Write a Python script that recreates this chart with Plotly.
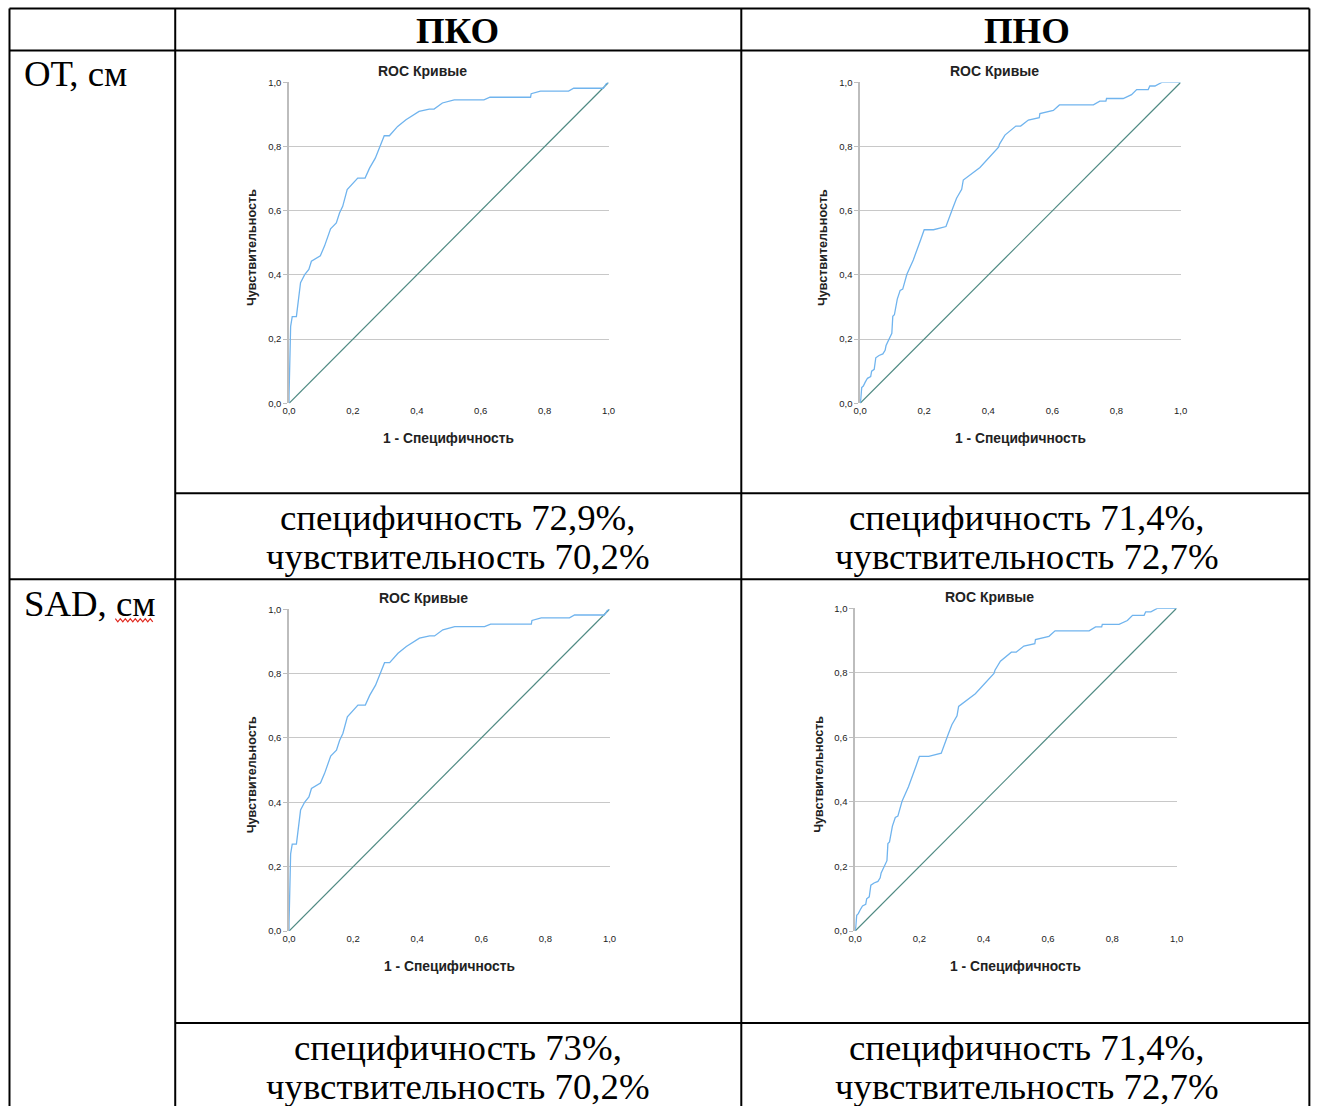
import plotly.graph_objects as go

W, H = 1318, 1106
# measured correction between figure pixels and the photographed picture
SX, BX = 0.991, 5.5
SY, BY = 0.9905, 4.5

# ---------------- data ----------------
col_headers = ["ПКО", "ПНО"]
row_headers = ["ОТ, см", "SAD, см"]
tick_vals = [0.0, 0.2, 0.4, 0.6, 0.8, 1.0]
tick_text = ["0,0", "0,2", "0,4", "0,6", "0,8", "1,0"]

ot_pko_fpr = [0, 0.0, 0.005, 0.01, 0.023, 0.03, 0.036, 0.049, 0.062, 0.07, 0.098, 0.111, 0.13, 0.148,
              0.158, 0.168, 0.182, 0.215, 0.238, 0.252, 0.27, 0.298, 0.314, 0.34, 0.366, 0.407, 0.439,
              0.454, 0.48, 0.517, 0.61, 0.629, 0.756, 0.758, 0.787, 0.875, 0.891, 0.984, 0.993, 1.0]
ot_pko_tpr = [0, 0.023, 0.24, 0.27, 0.27, 0.334, 0.376, 0.401, 0.417, 0.443, 0.46, 0.49, 0.544, 0.562,
              0.593, 0.614, 0.666, 0.702, 0.702, 0.733, 0.764, 0.834, 0.834, 0.863, 0.884, 0.910, 0.917,
              0.917, 0.936, 0.946, 0.946, 0.954, 0.954, 0.965, 0.973, 0.973, 0.982, 0.982, 0.996, 1.0]

ot_pno_fpr = [0, 0.002, 0.005, 0.01, 0.016, 0.023, 0.033, 0.036, 0.044, 0.049, 0.059, 0.071, 0.078,
              0.081, 0.099, 0.102, 0.107, 0.116, 0.125, 0.133, 0.146, 0.166, 0.189, 0.2, 0.229, 0.268,
              0.289, 0.301, 0.317, 0.322, 0.374, 0.416, 0.432, 0.435, 0.452, 0.486, 0.501, 0.525, 0.559,
              0.561, 0.603, 0.622, 0.728, 0.748, 0.767, 0.769, 0.821, 0.847, 0.863, 0.899, 0.904, 0.92,
              0.941, 1.0]
ot_pno_tpr = [0, 0.012, 0.049, 0.054, 0.066, 0.078, 0.083, 0.1, 0.106, 0.142, 0.149, 0.154, 0.165,
              0.18, 0.218, 0.271, 0.276, 0.325, 0.352, 0.356, 0.402, 0.447, 0.51, 0.541, 0.541, 0.551,
              0.608, 0.639, 0.667, 0.696, 0.735, 0.780, 0.798, 0.808, 0.836, 0.864, 0.864, 0.883, 0.89,
              0.903, 0.913, 0.93, 0.93, 0.942, 0.942, 0.95, 0.95, 0.962, 0.978, 0.978, 0.989, 0.989,
              1.0, 1.0]

sad_pko_fpr = list(ot_pko_fpr)
sad_pko_tpr = list(ot_pko_tpr)
sad_pno_fpr = list(ot_pno_fpr)
sad_pno_tpr = list(ot_pno_tpr)

result_line1 = [["специфичность 72,9%,", "специфичность 71,4%,"],
                ["специфичность 73%,", "специфичность 71,4%,"]]
result_line2 = [["чувствительность 70,2%", "чувствительность 72,7%"],
                ["чувствительность 70,2%", "чувствительность 72,7%"]]

chart_title = "ROC Кривые"
x_title = "1 - Специфичность"
y_title = "Чувствительность"

# ---------------- layout helpers (target picture pixels -> paper fractions) ----------------
def fx(px):
    return ((px - BX) / SX) / W

def fy(py):
    return 1 - ((py - BY) / SY) / H

SERIF = "Liberation Serif, Times New Roman, serif"
SANS = "Liberation Sans, Arial, sans-serif"
BIG = 36.8

panels = [  # (x0, x1, ytop, ybottom) in target pixels
    (288, 608, 81, 402),
    (860, 1181, 81, 402),
    (288, 609, 608, 930),
    (855, 1177, 607, 930),
]
curves = [(ot_pko_fpr, ot_pko_tpr), (ot_pno_fpr, ot_pno_tpr),
          (sad_pko_fpr, sad_pko_tpr), (sad_pno_fpr, sad_pno_tpr)]

fig = go.Figure()
annotations = []
shapes = []

for i, ((x0, x1, yt, yb), (fpr, tpr)) in enumerate(zip(panels, curves)):
    n = "" if i == 0 else str(i + 1)
    xa, ya = "x" + n, "y" + n
    fig.add_trace(go.Scatter(x=[0, 1], y=[0, 1], mode="lines",
                             line=dict(color="#4f8a83", width=1.2),
                             xaxis=xa, yaxis=ya, showlegend=False, hoverinfo="skip"))
    fig.add_trace(go.Scatter(x=fpr, y=tpr, mode="lines",
                             line=dict(color="#70b4ee", width=1.3),
                             xaxis=xa, yaxis=ya, showlegend=False))
    fig.layout["xaxis" + n] = dict(
        domain=[fx(x0), fx(x1)], range=[0, 1], anchor=ya,
        tickvals=tick_vals, ticktext=tick_text, showgrid=False, zeroline=False,
        showline=False, ticks="", ticklen=0,
        tickfont=dict(family=SANS, size=9.5, color="#222"), fixedrange=True)
    fig.layout["yaxis" + n] = dict(
        domain=[fy(yb), fy(yt)], range=[0, 1], anchor=xa,
        tickvals=tick_vals, ticktext=tick_text, showgrid=True, gridcolor="#c8c8c8",
        gridwidth=1.2, zeroline=False, showline=True, linecolor="#bdbdbd", linewidth=1.5,
        ticks="outside", ticklen=4, tickcolor="#bdbdbd",
        tickfont=dict(family=SANS, size=9.5, color="#222"), fixedrange=True)
    cx = (x0 + x1) / 2
    cy = (yt + yb) / 2
    annotations.append(dict(x=fx(cx - 26), y=fy(yt - 11), xref="paper", yref="paper",
                            text="<b>" + chart_title + "</b>", showarrow=False,
                            font=dict(family=SANS, size=14, color="#222"),
                            xanchor="center", yanchor="middle"))
    annotations.append(dict(x=fx(cx), y=fy(yb + 35), xref="paper", yref="paper",
                            text="<b>" + x_title + "</b>", showarrow=False,
                            font=dict(family=SANS, size=13.8, color="#222"),
                            xanchor="center", yanchor="middle"))
    annotations.append(dict(x=fx(x0 - 37), y=fy(cy + 5), xref="paper", yref="paper",
                            text="<b>" + y_title + "</b>", showarrow=False, textangle=-90,
                            font=dict(family=SANS, size=12.6, color="#222"),
                            xanchor="center", yanchor="middle"))

# ---------------- table ----------------
vlines = [8, 174, 741, 1310]
for xv in vlines:
    shapes.append(dict(type="line", xref="paper", yref="paper",
                       x0=fx(xv), x1=fx(xv), y0=fy(7), y1=fy(1125),
                       line=dict(color="black", width=2)))
for yh in [7, 49, 578]:
    shapes.append(dict(type="line", xref="paper", yref="paper",
                       x0=fx(8), x1=fx(1310), y0=fy(yh), y1=fy(yh),
                       line=dict(color="black", width=2)))
for yh in [492, 1022]:
    shapes.append(dict(type="line", xref="paper", yref="paper",
                       x0=fx(174), x1=fx(1310), y0=fy(yh), y1=fy(yh),
                       line=dict(color="black", width=2)))

col_centers = [457, 1027]
for c, txt in enumerate(col_headers):
    annotations.append(dict(x=fx(col_centers[c]), y=fy(29), xref="paper", yref="paper",
                            text="<b>" + txt + "</b>", showarrow=False,
                            font=dict(family=SERIF, size=BIG, color="black"),
                            xanchor="center", yanchor="middle"))

row_label_y = [72, 602]
for r, txt in enumerate(row_headers):
    annotations.append(dict(x=fx(21), y=fy(row_label_y[r]), xref="paper", yref="paper",
                            text=txt, showarrow=False,
                            font=dict(family=SERIF, size=BIG, color="black"),
                            xanchor="left", yanchor="middle"))

line_y = [(516, 555), (1046, 1085)]
for r in range(2):
    for c in range(2):
        annotations.append(dict(x=fx(col_centers[c]), y=fy(line_y[r][0]), xref="paper", yref="paper",
                                text=result_line1[r][c], showarrow=False,
                                font=dict(family=SERIF, size=BIG, color="black"),
                                xanchor="center", yanchor="middle"))
        annotations.append(dict(x=fx(col_centers[c]), y=fy(line_y[r][1]), xref="paper", yref="paper",
                                text=result_line2[r][c], showarrow=False,
                                font=dict(family=SERIF, size=BIG, color="black"),
                                xanchor="center", yanchor="middle"))

# red spell-check wavy underline under "см"
wx0, wx1, wy = 114, 152, 619
pts = []
k = 0
xw = wx0
while xw <= wx1:
    pts.append((fx(xw), fy(wy + (1.6 if k % 2 else -1.6))))
    xw += 2.5
    k += 1
path = "M " + " L ".join(f"{a:.5f},{b:.5f}" for a, b in pts)
shapes.append(dict(type="path", xref="paper", yref="paper", path=path,
                   line=dict(color="#e0281e", width=1.2)))

fig.update_layout(width=W, height=H, margin=dict(l=0, r=0, t=0, b=0),
                  paper_bgcolor="white", plot_bgcolor="white",
                  annotations=annotations, shapes=shapes, showlegend=False)

fig.write_html("out.html", config={"displayModeBar": False},
               post_script="document.body.style.margin='0';document.body.style.overflow='hidden';")
